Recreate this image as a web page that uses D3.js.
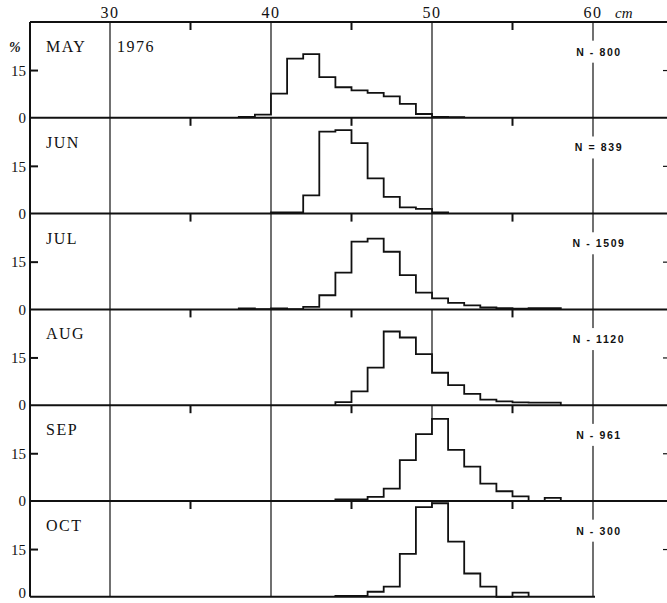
<!DOCTYPE html>
<html>
<head>
<meta charset="utf-8">
<script src="https://cdn.jsdelivr.net/npm/d3@7"></script>
<style>
  body { margin: 0; background: #fff; }
  text { fill: #111; }
  .serif { font-family: "Liberation Serif", "DejaVu Serif", serif; }
  .nlab { font-family: "Liberation Sans", Arial, sans-serif; font-weight: bold; font-size: 10.5px; letter-spacing: 1.6px; }
</style>
</head>
<body>
<div id="chart"></div>
<script>
// monthly length distributions, 1976 (percent per 1 cm class)
var months = ["MAY", "JUN", "JUL", "AUG", "SEP", "OCT"];
var nLabels = ["N - 800", "N = 839", "N - 1509", "N - 1120", "N - 961", "N - 300"];
var binStart = [38, 40, 38, 44, 44, 44];   // lower edge (cm) of first class
var mayPct = [0.3, 1.0, 7.7, 18.8, 20.2, 12.9, 9.7, 8.7, 7.9, 6.8, 4.4, 1.2, 0.3, 0.2];
var junPct = [0.4, 0.4, 5.8, 26.0, 26.5, 22.4, 11.2, 5.3, 2.0, 1.5, 0.4];
var julPct = [0.3, 0.1, 0.3, 0.1, 0.8, 4.5, 11.7, 21.5, 22.5, 18.3, 10.9, 5.3, 3.5, 2.1, 1.3, 0.6, 0.4, 0.2, 0.4, 0.4];
var augPct = [1.0, 4.4, 11.9, 23.4, 21.5, 16.2, 10.3, 6.4, 3.6, 1.8, 1.2, 0.9, 0.8, 0.8];
var sepPct = [0.5, 0.5, 1.3, 3.9, 13.0, 21.2, 26.1, 16.2, 10.9, 5.5, 3.1, 1.5, 0, 1.0];
var octPct = [0.3, 0.3, 1.6, 3.2, 13.6, 28.5, 29.7, 17.5, 7.4, 3.2, 0, 1.3];
var series = [mayPct, junPct, julPct, augPct, sepPct, octPct];
var majorTicks = [30, 40, 50, 60];
var minorTicks = [35, 45, 55];
var yTicks = [0, 15];

(() => {

var width = 667, height = 603;
var frameLeft = 30, frameTop = 22, panelH = 95.8;

var svg = d3.select("#chart").append("svg")
  .attr("width", width)
  .attr("height", height);

var x = d3.scaleLinear().domain([30, 60]).range([110, 593]);

// top axis labels
svg.selectAll(".xlab")
  .data(majorTicks)
  .enter().append("text")
  .attr("class", "serif")
  .attr("x", function(d) { return x(d); })
  .attr("y", 18)
  .attr("text-anchor", "middle")
  .style("font-size", "16px")
  .style("letter-spacing", "1.5px")
  .text(function(d) { return d; });

svg.append("text")
  .attr("class", "serif")
  .attr("x", 615).attr("y", 18)
  .style("font-size", "15px").style("font-style", "italic")
  .text("cm");

svg.append("text")
  .attr("class", "serif")
  .attr("x", 9).attr("y", 52)
  .style("font-size", "14px").style("font-style", "italic").style("font-weight", "bold")
  .text("%");

months.forEach(function(m, i) {
  var y0 = frameTop + i * panelH;
  var y = d3.scaleLinear().domain([0, panelH / 3.15]).range([y0 + panelH, y0]);
  var g = svg.append("g").attr("class", "panel");
  var last = i === months.length - 1;

  // vertical guide lines
  g.selectAll(".grid")
    .data(majorTicks)
    .enter().append("line")
    .attr("x1", function(d) { return x(d); })
    .attr("x2", function(d) { return x(d); })
    .attr("y1", y0).attr("y2", y0 + panelH)
    .attr("stroke", "#111").attr("stroke-width", 1.2);

  // short ticks hanging from the top edge
  g.selectAll(".minor")
    .data(minorTicks)
    .enter().append("line")
    .attr("x1", function(d) { return x(d); })
    .attr("x2", function(d) { return x(d); })
    .attr("y1", y0).attr("y2", y0 + 8)
    .attr("stroke", "#111").attr("stroke-width", 2);

  // histogram
  var vals = series[i];
  var pts = [[binStart[i], 0]];
  vals.forEach(function(v, k) { pts.push([binStart[i] + k, v]); });
  pts.push([binStart[i] + vals.length, 0]);

  var area = d3.area()
    .curve(d3.curveStepAfter)
    .x(function(d) { return x(d[0]); })
    .y0(y(0))
    .y1(function(d) { return y(d[1]); });
  var line = d3.line()
    .curve(d3.curveStepAfter)
    .x(function(d) { return x(d[0]); })
    .y(function(d) { return y(d[1]); });

  g.append("path").datum(pts).attr("d", area).attr("fill", "#fff");
  g.append("path").datum(pts).attr("d", line)
    .attr("fill", "none").attr("stroke", "#111").attr("stroke-width", 1.8);

  // baseline
  g.append("line")
    .attr("x1", frameLeft).attr("x2", last ? x(60) + 2 : width)
    .attr("y1", y(0)).attr("y2", y(0))
    .attr("stroke", "#111").attr("stroke-width", 2);

  // y ticks and labels
  g.selectAll(".ytick")
    .data(yTicks.slice(1))
    .enter().append("line")
    .attr("x1", frameLeft).attr("x2", frameLeft + 8)
    .attr("y1", function(d) { return y(d); })
    .attr("y2", function(d) { return y(d); })
    .attr("stroke", "#111").attr("stroke-width", 2);
  g.selectAll(".ylab")
    .data(yTicks)
    .enter().append("text")
    .attr("class", "serif")
    .attr("x", 26)
    .attr("y", function(d) { return y(d); })
    .attr("dy", function(d) { return last && d === 0 ? "0.1em" : "0.35em"; })
    .attr("text-anchor", "end")
    .style("font-size", "15px")
    .text(function(d) { return d; });

  // small tick at right edge
  g.append("line")
    .attr("x1", 663).attr("x2", 667)
    .attr("y1", y(15)).attr("y2", y(15))
    .attr("stroke", "#111").attr("stroke-width", 1.2);

  // month name
  g.append("text")
    .attr("class", "serif")
    .attr("x", 46).attr("y", y0 + 30)
    .style("font-size", "16px")
    .style("letter-spacing", "1.5px")
    .text(m);

  // N label, masking the 60 cm line
  var nt = g.append("text")
    .attr("class", "nlab")
    .attr("x", 599).attr("y", y0 + 30)
    .attr("dy", "0.35em")
    .attr("text-anchor", "middle")
    .text(nLabels[i]);
  var bb = nt.node().getBBox();
  g.insert("rect", ".nlab")
    .attr("x", bb.x - 2).attr("y", bb.y - 5)
    .attr("width", bb.width + 4).attr("height", bb.height + 10)
    .attr("fill", "#fff");
});

svg.append("text")
  .attr("class", "serif")
  .attr("x", 117).attr("y", 52)
  .style("font-size", "16px")
  .style("letter-spacing", "1.5px")
  .text("1976");

// frame: top edge and left edge
svg.append("line")
  .attr("x1", frameLeft).attr("x2", width)
  .attr("y1", frameTop).attr("y2", frameTop)
  .attr("stroke", "#111").attr("stroke-width", 2);
svg.append("line")
  .attr("x1", frameLeft).attr("x2", frameLeft)
  .attr("y1", frameTop).attr("y2", frameTop + months.length * panelH)
  .attr("stroke", "#111").attr("stroke-width", 2);

})();
</script>
</body>
</html>
